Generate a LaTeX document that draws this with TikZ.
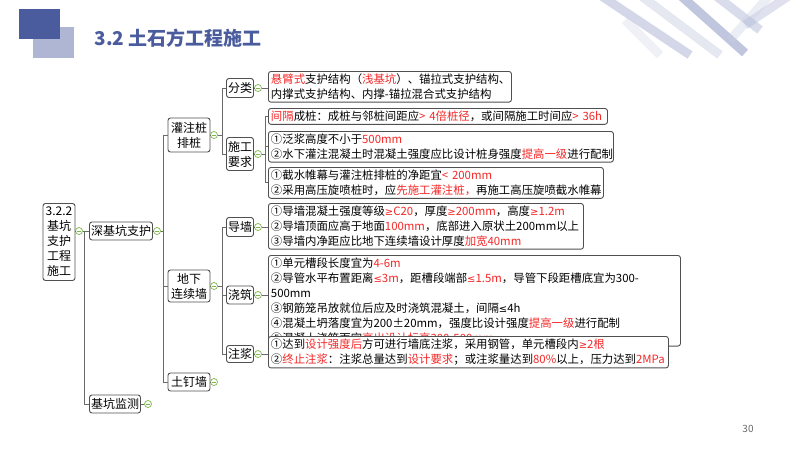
\documentclass[tikz,border=0pt]{standalone}
\usepackage{fontspec}
\setmainfont{Noto Sans CJK SC}
\newfontfamily\symf{DejaVu Sans}
\newcommand\rd[1]{\textcolor{hred}{#1}}
\newcommand\mygeq{{\symf\fontsize{10}{12}\selectfont ≥}}
\newcommand\myleq{{\symf\fontsize{10}{12}\selectfont ≤}}
\definecolor{hred}{HTML}{F52828}
\definecolor{bord}{HTML}{505050}
\definecolor{tgl}{HTML}{7AB648}
\definecolor{ttl}{HTML}{4A5C9E}
\begin{document}
\begin{tikzpicture}[x=1pt,y=-1pt,
  box/.style={draw=bord,line width=0.9pt,rounded corners=2.5pt,fill=white,inner sep=1pt,font=\fontsize{12}{15}\selectfont,align=center},
  leaf/.style={box,anchor=north west,align=left,inner sep=2.5pt,font=\fontsize{11.4}{15}\selectfont},
  tog/.style={circle,draw=tgl,fill=white,line width=0.7pt,minimum size=7pt,inner sep=0pt,
     path picture={\draw[tgl,line width=0.6pt] (path picture bounding box.west)++(1.5pt,0)--++(4pt,0);}},
  togp/.style={tog,path picture={\draw[tgl,line width=0.6pt] (path picture bounding box.west)++(1.5pt,0)--++(4pt,0) (path picture bounding box.north)++(0,1.5pt)--++(0,4pt);}},
  con/.style={draw=bord!85,line width=0.8pt}]
\useasboundingbox (0,0) rectangle (800,450);
% decoration
\fill[ttl!45] (33,27) rectangle (74,58);
\fill[ttl] (19,9) rectangle (60,39);
\node[anchor=west,text=ttl,font=\fontsize{19}{22}\selectfont\bfseries] (title) at (91,38) {3.2 土石方工程施工};
\begin{scope}[line width=9pt,opacity=0.35]
\draw[ttl!70] (600,-5) -- (690,55);
\draw[ttl!40] (640,-5) -- (720,55);
\draw[ttl] (680,-5) -- (745,53);
\draw[ttl!60] (715,-5) -- (760,30);
\draw[ttl!50] (790,-5) -- (745,25);
\draw[ttl!30] (770,-5) -- (730,40);
\draw[ttl!25] (625,20) -- (660,55);
\end{scope}
\node[text=black!60,font=\fontsize{10}{12}\selectfont] (pg) at (748,429) {30};
% tree nodes
\node[box,minimum width=32pt,minimum height=77pt] (root) at (59,242) {3.2.2\\基坑\\支护\\工程\\施工};
\node[box,minimum width=63pt,minimum height=18pt] (shen) at (121,231) {深基坑支护};
\node[box,minimum width=51pt,minimum height=18pt] (jc) at (115,404) {基坑监测};
\node[box,minimum width=42pt,minimum height=34pt] (gz) at (189,135) {灌注桩\\排桩};
\node[box,minimum width=42pt,minimum height=32pt] (dx) at (189,286) {地下\\连续墙};
\node[box,minimum width=42pt,minimum height=18pt] (td) at (189,382) {土钉墙};
\node[box,minimum width=27pt,minimum height=19pt] (fl) at (240,88) {分类};
\node[box,minimum width=27pt,minimum height=33pt] (sg) at (240,154) {施工\\要求};
\node[box,minimum width=27pt,minimum height=19pt] (dq) at (240,227) {导墙};
\node[box,minimum width=27pt,minimum height=18pt] (jz) at (240,295) {浇筑};
\node[box,minimum width=27pt,minimum height=17pt] (zj) at (240,354) {注浆};
% leaves
\node[leaf,text width=238pt] (l1) at (268,71) {\rd{悬臂式}支护结构（\rd{浅基坑}）、锚拉式支护结构、\\内撑式支护结构、内撑-锚拉混合式支护结构};
\node[leaf,text width=334pt] (l2) at (268,108) {\rd{间隔}成桩：成桩与邻桩间距应\rd{ > 4倍桩径}，或间隔施工时间应\rd{ > 36h}};
\node[leaf,text width=340pt] (l3) at (268,131) {①泛浆高度不小于\rd{500mm}\\②水下灌注混凝土时混凝土强度应比设计桩身强度\rd{提高一级}进行配制};
\node[leaf,text width=330pt] (l4) at (268,167) {①截水帷幕与灌注桩排桩的净距宜\rd{ < 200mm}\\②采用高压旋喷桩时，应\rd{先施工灌注桩，}再施工高压旋喷截水帷幕};
\node[leaf,text width=310pt] (l5) at (268,203) {①导墙混凝土强度等级\rd{\mygeq C20}，厚度\rd{\mygeq 200mm}，高度\rd{\mygeq 1.2m}\\②导墙顶面应高于地面\rd{100mm}，底部进入原状土200mm以上\\③导墙内净距应比地下连续墙设计厚度\rd{加宽40mm}};
\node[leaf,text width=407pt] (l6) at (268,255) {①单元槽段长度宜为\rd{4-6m}\\②导管水平布置距离\rd{\myleq 3m}，距槽段端部\rd{\myleq 1.5m}，导管下段距槽底宜为300-500mm\\③钢筋笼吊放就位后应及时浇筑混凝土，间隔\myleq 4h\\④混凝土坍落度宜为200±20mm，强度比设计强度\rd{提高一级}进行配制\\⑤混凝土浇筑面宜\rd{高出设计标高300-500mm}};
\node[leaf,text width=395pt] (l7) at (268,336) {①达到\rd{设计强度后}方可进行墙底注浆，采用钢管，单元槽段内\rd{\mygeq 2根}\\②\rd{终止注浆}：注浆总量达到\rd{设计要求}；或注浆量达到\rd{80\%}以上，压力达到\rd{2MPa}};
% toggles
\node[tog] (t0) at (79,231) {};
\node[tog] (t1) at (157,231) {};
\node[tog] (t2) at (214,135) {};
\node[tog] (t3) at (214,286) {};
\node[togp] (t4) at (214,382) {};
\node[togp] (t5) at (148,404) {};
\node[tog] (t6) at (258,88) {};
\node[tog] (t7) at (258,154) {};
\node[tog] (t8) at (258,227) {};
\node[tog] (t9) at (258,295) {};
\node[tog] (t10) at (258,354) {};
% connectors
\path[con] (root.east|-t0) -- (t0.west);
\path[con] (t0.east) -- ++(2,0) coordinate (a0);
\path[con] (a0) |- (shen.west) (a0) |- (jc.west);
\path[con] (shen.east) -- (t1.west) (jc.east) -- (t5.west);
\path[con] (t1.east) -- ++(3,0) coordinate (a1);
\path[con] (a1) |- (gz.west) (a1) |- (dx.west) (a1) |- (td.west);
\path[con] (gz.east) -- (t2.west) (dx.east) -- (t3.west) (td.east) -- (t4.west);
\path[con] (t2.east) -- ++(5,0) coordinate (a2);
\path[con] (a2) |- (fl.west) (a2) |- (sg.west);
\path[con] (t3.east) -- ++(5,0) coordinate (a3);
\path[con] (a3) |- (dq.west) (a3) |- (jz.west) (a3) |- (zj.west);
\path[con] (fl.east) -- (t6.west) (sg.east) -- (t7.west) (dq.east) -- (t8.west) (jz.east) -- (t9.west) (zj.east) -- (t10.west);
\path[con] (t6.east) -- (l1.west|-t6);
\path[con] (t7.east) -- ++(4,0) coordinate (a7);
\path[con] (a7) |- (l2.west) (a7) |- (l3.west) (a7) |- (l4.west);
\path[con] (t8.east) -- (l5.west|-t8);
\path[con] (t9.east) -- (l6.west|-t9);
\path[con] (t10.east) -- (l7.west|-t10);
\end{tikzpicture}
\end{document}
